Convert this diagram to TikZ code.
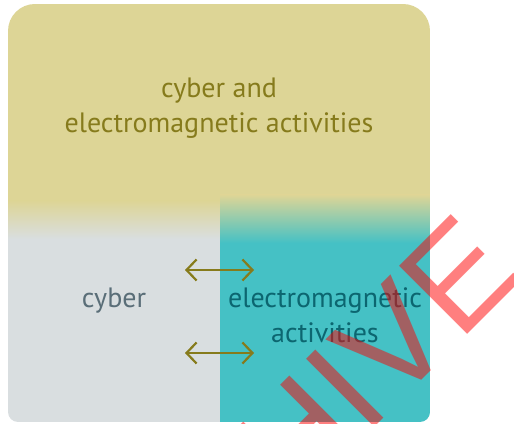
\documentclass[tikz,border=0pt]{standalone}
\usepackage{fontspec}
\setmainfont{PT Sans}
\newfontfamily\stampfont{Liberation Sans}
\usepackage{xcolor}
\usetikzlibrary{calc, positioning, arrows.meta}
\definecolor{cemasand}{HTML}{DDD596}
\definecolor{cemagrey}{HTML}{D9DEE0}
\definecolor{cemateal}{HTML}{45C1C5}
\definecolor{cemaolive}{HTML}{867B1C}
\definecolor{cemaslate}{HTML}{5A6E78}
\definecolor{cemadeep}{HTML}{0C6670}

\begin{document}
\begin{tikzpicture}[x=1pt, y=1pt]
        \useasboundingbox (0, 0) rectangle (514, 423);

        % panel outline, big top corners, small bottom corners
        \begin{scope}
            \clip (8, 11) -- (8, 392) arc[start angle=180, end angle=90, radius=27]
                -- (403, 419) arc[start angle=90, end angle=0, radius=27]
                -- (430, 11) arc[start angle=0, end angle=-90, radius=10]
                -- (18, 1) arc[start angle=270, end angle=180, radius=10] -- cycle;

            \fill [cemasand] (8, 222) rectangle (430, 419);
            \shade [top color=cemasand, bottom color=cemagrey] (8, 222) rectangle (220, 184);
            \shade [top color=cemasand, bottom color=cemateal] (220, 228) rectangle (430, 180);
            \fill [cemagrey] (8, 184) rectangle (220, 1);
            \fill [cemateal] (220, 180) rectangle (430, 1);
        \end{scope}

        \tikzstyle{lbl} = [inner sep=0, align=center, anchor=base, font=\fontsize{28}{35}\selectfont];
        \node [lbl, text=cemaolive] (both) at (219, 290) {cyber and\\electromagnetic activities};
        \node [lbl, text=cemaslate] (cyber) at (114, 115) {cyber};
        \node [lbl, text=cemadeep] (em) at (325, 80) {electromagnetic\\activities};

        \tikzstyle{link} = [draw=cemaolive, line width=2.2pt,
            {Straight Barb[length=10pt, width=21pt]}-{Straight Barb[length=10pt, width=21pt]}];
        \foreach \ay [count=\i] in {153, 70}{
            \coordinate (L\i) at (185, \ay);
            \coordinate (R\i) at (254, \ay);
            \draw [link] (L\i) -- (R\i);
        }

        % stamp across the corner
        \tikzstyle{stamp} = [inner sep=0, text=red, text opacity=0.5,
            font=\stampfont\fontsize{140}{140}\selectfont];
        \begin{scope}
            \clip (0, 0) rectangle (514, 423);
            \node [stamp, anchor=base west, rotate=45] (archive) at (85, -294) {ARCHIVE};
        \end{scope}
    \end{tikzpicture}
\end{document}
